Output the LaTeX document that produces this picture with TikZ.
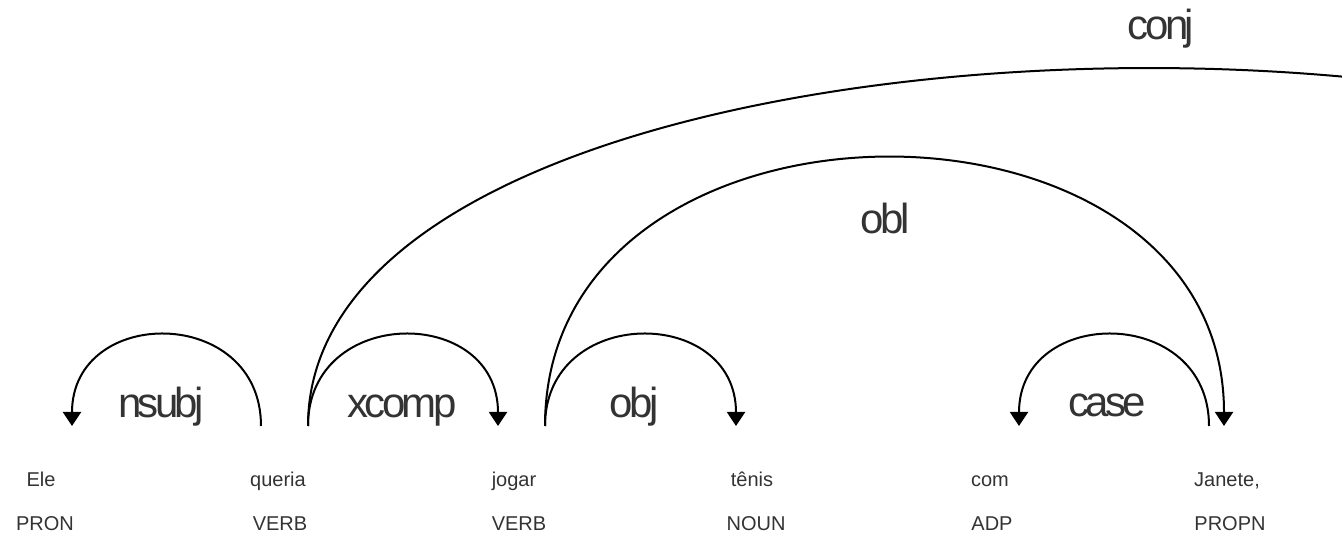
\documentclass[tikz,border=0pt]{standalone}
\usepackage{fontspec}
\setmainfont{Liberation Sans}
\newfontfamily\deplabelfont[LetterSpace=-8.6]{Liberation Sans}
\usetikzlibrary{arrows.meta}
\definecolor{inkgray}{HTML}{333333}

\begin{document}
\begin{tikzpicture}[
  x=0.5pt, y=-0.5pt,
  >={Triangle[width=9pt, length=7pt]},
  dep/.style={->, line width=1pt, black},
  word/.style={anchor=base, inner sep=0pt, text=inkgray,
               font=\fontsize{10}{12}\selectfont},
  postag/.style={word},
  deplabel/.style={anchor=base, inner sep=0pt, text=inkgray,
                   font=\deplabelfont\fontsize{21}{24}\selectfont}
]
\useasboundingbox (0,0) rectangle (1342,533);
\clip (0,0) rectangle (1342,533);

% Words and their tags, fixed positions
\node[word]   (ele)       at (41,487)   {Ele};
\node[postag] (ele-pos)   at (45,530)   {PRON};
\node[word]   (queria)    at (278,487)  {queria};
\node[postag] (queria-pos) at (280,530) {VERB};
\node[word]   (jogar)     at (514,487)  {jogar};
\node[postag] (jogar-pos) at (519,530)  {VERB};
\node[word]   (tenis)     at (752,487)  {tênis};
\node[postag] (tenis-pos) at (756,530)  {NOUN};
\node[word]   (com)       at (990,487)  {com};
\node[postag] (com-pos)   at (992,530)  {ADP};
\node[word]   (janete)    at (1227,487) {Janete,};
\node[postag] (janete-pos) at (1230,530) {PROPN};

% Arc ends above the words
\coordinate (ele-in)     at (72,426);
\coordinate (queria-l)   at (261,426);
\coordinate (queria-r)   at (308,426);
\coordinate (jogar-in)   at (498,426);
\coordinate (jogar-out)  at (545,426);
\coordinate (tenis-in)   at (736,426);
\coordinate (com-in)     at (1019,426);
\coordinate (janete-out) at (1209,426);
\coordinate (janete-in)  at (1224,426);
\coordinate (conj-end)   at (1972,426); % word beyond the right edge

% Dependency arcs
\draw[dep] (queria-l) .. controls +(0,-121) and +(0,-121) .. (ele-in);
\draw[dep] (queria-r) .. controls +(0,-121) and +(0,-121) .. (jogar-in);
\draw[dep] (jogar-out) .. controls +(0,-121) and +(0,-121) .. (tenis-in);
\draw[dep] (janete-out) .. controls +(0,-121) and +(0,-121) .. (com-in);
\draw[dep] (jogar-out) .. controls +(0,-357) and +(0,-357) .. (janete-in);
\draw[dep] (queria-r) .. controls +(0,-475) and +(0,-475) .. (conj-end);

% Relation labels
\node[deplabel] (nsubj-lbl) at (161,418)  {nsubj};
\node[deplabel] (xcomp-lbl) at (402,418)  {xcomp};
\node[deplabel] (obj-lbl)   at (634,418)  {obj};
\node[deplabel] (case-lbl)  at (1107,416) {case};
\node[deplabel] (obl-lbl)   at (885,234)  {obl};
\node[deplabel] (conj-lbl)  at (1161,40)  {conj};

\end{tikzpicture}
\end{document}
